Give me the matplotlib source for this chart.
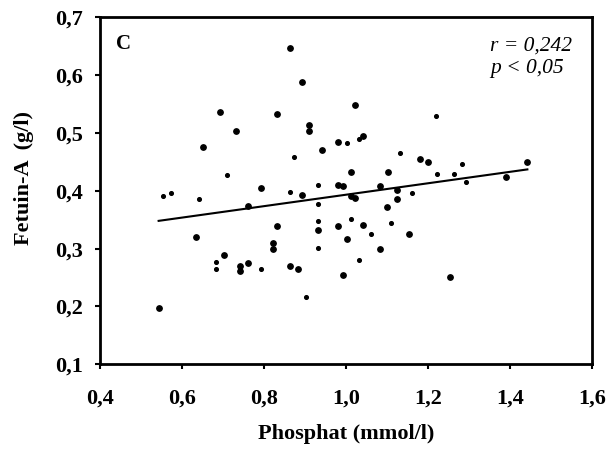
import numpy as np
import matplotlib.pyplot as plt

plt.rcParams['font.family'] = ['Liberation Serif', 'DejaVu Serif']

# larger dots
phos_big = [0.863, 0.893, 0.693, 0.833, 1.023, 0.733, 0.911, 0.911, 0.652, 0.982,
            0.941, 1.043, 1.013, 0.982, 0.993, 0.793, 0.893, 1.013, 1.023, 0.762,
            0.833, 0.932, 0.982, 0.633, 0.822, 0.822, 1.002, 0.703, 0.742, 0.742,
            0.762, 0.863, 0.882, 0.993, 0.543, 1.182, 1.201, 1.443, 1.102, 1.391,
            1.083, 1.124, 1.124, 1.101, 1.041, 1.153, 1.083, 1.253]
fet_big = [0.647, 0.589, 0.537, 0.533, 0.548, 0.504, 0.514, 0.504, 0.476, 0.485,
           0.470, 0.495, 0.433, 0.410, 0.409, 0.404, 0.393, 0.391, 0.387, 0.374,
           0.339, 0.333, 0.339, 0.320, 0.310, 0.299, 0.316, 0.289, 0.270, 0.262,
           0.275, 0.270, 0.265, 0.255, 0.197, 0.455, 0.449, 0.450, 0.433, 0.424,
           0.409, 0.401, 0.386, 0.372, 0.341, 0.326, 0.299, 0.251]

# smaller dots
phos_small = [1.002, 1.033, 0.873, 0.711, 0.932, 0.863, 0.553, 0.573, 0.642, 0.932,
              0.932, 1.012, 0.932, 1.032, 0.683, 0.683, 0.793, 0.902, 1.221, 1.132,
              1.283, 1.222, 1.263, 1.293, 1.162, 1.111, 1.061]
fet_small = [0.483, 0.489, 0.458, 0.428, 0.410, 0.398, 0.391, 0.396, 0.385, 0.377,
             0.348, 0.352, 0.301, 0.280, 0.276, 0.265, 0.265, 0.217, 0.529, 0.465,
             0.446, 0.429, 0.429, 0.416, 0.397, 0.344, 0.326]

# regression line
line_x = [0.543, 1.443]
line_y = [0.348, 0.437]

xticks = [0.4, 0.6, 0.8, 1.0, 1.2, 1.4, 1.6]
yticks = [0.1, 0.2, 0.3, 0.4, 0.5, 0.6, 0.7]

fig = plt.figure(figsize=(6.1, 4.57), dpi=100)
ax = fig.add_axes([0.164, 0.203, 0.806, 0.759])

ax.scatter(phos_big, fet_big, s=15, color='black', zorder=3)
ax.scatter(phos_small, fet_small, s=7, color='black', zorder=3)
ax.plot(line_x, line_y, color='black', lw=1.5)

ax.set_xlim(0.4, 1.6)
ax.set_ylim(0.1, 0.7)
ax.set_xticks(xticks)
ax.set_yticks(yticks)
ax.set_xticklabels([f'{t:.1f}'.replace('.', ',') for t in xticks], fontweight='bold', fontsize=16)
ax.set_yticklabels([f'{t:.1f}'.replace('.', ',') for t in yticks], fontweight='bold', fontsize=16)
ax.tick_params(direction='out', length=3.6, width=1.5)
ax.tick_params(axis='x', pad=14)
ax.tick_params(axis='y', pad=8.5)
for sp in ax.spines.values():
    sp.set_linewidth(2)

ax.set_xlabel('Phosphat (mmol/l)', fontweight='bold', fontsize=16, labelpad=11)
ax.set_ylabel('Fetuin-A  (g/l)', fontweight='bold', fontsize=16)
ax.yaxis.set_label_coords(-0.134, 0.536)

ax.text(0.0325, 0.951, 'C', transform=ax.transAxes, fontweight='bold', fontsize=15, va='top')
ax.text(0.793, 0.905, 'r = 0,242', transform=ax.transAxes, style='italic',
        fontsize=15.5, va='baseline', ha='left')
ax.text(0.793, 0.840, 'p < 0,05', transform=ax.transAxes, style='italic',
        fontsize=15.5, va='baseline', ha='left')

fig.savefig('out.png', dpi=100)
